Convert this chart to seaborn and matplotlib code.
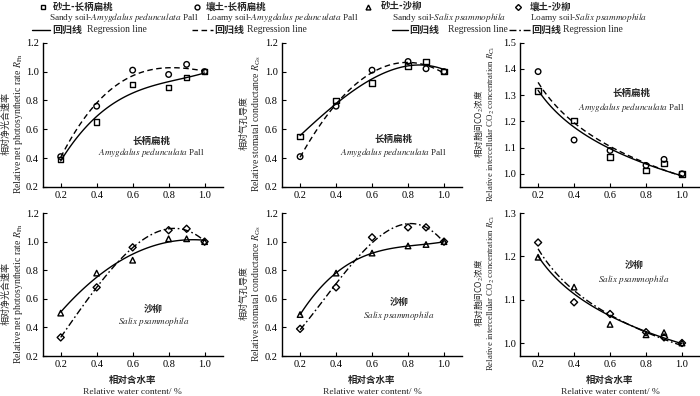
"""
相对含水率与光合参数关系图（长柄扁桃、沙柳）
"""
import matplotlib
matplotlib.use('Agg')
import matplotlib.pyplot as plt
from matplotlib.lines import Line2D
import seaborn as sns
import pandas as pd

# 数据
water = [0.2, 0.4, 0.6, 0.8, 0.9, 1.0]

pn_amy_sandy = [0.39, 0.65, 0.91, 0.89, 0.96, 1.00]
pn_amy_loamy = [0.41, 0.76, 1.01, 0.98, 1.05, 1.00]
gs_amy_sandy = [0.55, 0.80, 0.92, 1.04, 1.07, 1.00]
gs_amy_loamy = [0.41, 0.76, 1.01, 1.07, 1.02, 1.00]
ci_amy_sandy = [1.316, 1.203, 1.065, 1.013, 1.039, 1.00]
ci_amy_loamy = [1.390, 1.129, 1.089, 1.032, 1.055, 1.00]

pn_sal_sandy = [0.50, 0.78, 0.87, 1.02, 1.02, 1.00]
pn_sal_loamy = [0.33, 0.68, 0.96, 1.08, 1.09, 1.00]
gs_sal_sandy = [0.49, 0.78, 0.92, 0.97, 0.98, 1.00]
gs_sal_loamy = [0.39, 0.68, 1.03, 1.10, 1.10, 1.00]
ci_sal_sandy = [1.198, 1.129, 1.043, 1.019, 1.024, 1.00]
ci_sal_loamy = [1.232, 1.094, 1.067, 1.025, 1.013, 1.00]

sns.set_theme(style='ticks')
plt.rcParams['font.family'] = ['Liberation Serif', 'Noto Sans CJK SC']
plt.rcParams['mathtext.fontset'] = 'stix'
plt.rcParams['axes.unicode_minus'] = False
plt.rcParams['xtick.direction'] = 'in'
plt.rcParams['ytick.direction'] = 'in'

CJK = ['Noto Sans CJK SC', 'Liberation Serif']

DASH = (0, (4, 2.5))
DASHDOT = (0, (5, 2, 1.2, 2))

fig = plt.figure(figsize=(7, 3.96), dpi=100)

lefts = [0.061, 0.403, 0.743]
w = 0.257
rows = [(0.528, 0.364), (0.101, 0.361)]
# y轴标签偏移（中文, 英文）及字号
ylab_off = [(-0.205, -0.135), (-0.21, -0.14), (-0.228, -0.158)]
ylab_size = [(6.5, 7.0), (6.5, 7.0), (6.2, 6.3)]

panels = [
    # row, col, sandy, loamy, markers, loamy style, ylim, yticks, labels, species, 注释位置, 拟合方式
    (0, 0, pn_amy_sandy, pn_amy_loamy, ('s', 'o'), DASH, (0.2, 1.2),
     [0.2, 0.4, 0.6, 0.8, 1.0, 1.2], '相对净光合速率',
     r'Relative net photosynthetic rate $R_{\rm Pn}$', 'amy', (0.705, 0.52, 0.436), 'poly'),
    (0, 1, gs_amy_sandy, gs_amy_loamy, ('s', 'o'), DASH, (0.2, 1.2),
     [0.2, 0.4, 0.6, 0.8, 1.0, 1.2], '相对气孔导度',
     r'Relative stomatal conductance $R_{\rm Gs}$', 'amy', (0.717, 0.53, 0.44), 'poly'),
    (0, 2, ci_amy_sandy, ci_amy_loamy, ('s', 'o'), DASH, (0.95, 1.5),
     [1.0, 1.1, 1.2, 1.3, 1.4, 1.5], '相对胞间CO$_2$浓度',
     r'Relative intercellular CO$_2$ concentration $R_{\rm Ci}$', 'amy', (0.717, 1.307, 1.252), 'log'),
    (1, 0, pn_sal_sandy, pn_sal_loamy, ('^', 'D'), DASHDOT, (0.2, 1.2),
     [0.2, 0.4, 0.6, 0.8, 1.0, 1.2], '相对净光合速率',
     r'Relative net photosynthetic rate $R_{\rm Pn}$', 'sal', (0.717, 0.53, 0.44), 'poly'),
    (1, 1, gs_sal_sandy, gs_sal_loamy, ('^', 'D'), DASHDOT, (0.2, 1.2),
     [0.2, 0.4, 0.6, 0.8, 1.0, 1.2], '相对气孔导度',
     r'Relative stomatal conductance $R_{\rm Gs}$', 'sal', (0.75, 0.58, 0.48), 'poly'),
    (1, 2, ci_sal_sandy, ci_sal_loamy, ('^', 'D'), DASHDOT, (0.97, 1.3),
     [1.0, 1.1, 1.2, 1.3], '相对胞间CO$_2$浓度',
     r'Relative intercellular CO$_2$ concentration $R_{\rm Ci}$', 'sal', (0.733, 1.179, 1.147), 'log'),
]

for (row, col, sandy, loamy, mks, lstyle, ylim, yticks, ylab_cn, ylab_en,
     sp, ann, fit) in panels:
    bottom, height = rows[row]
    ax = fig.add_axes([lefts[col], bottom, w, height])
    df = pd.DataFrame({'x': water, 'sandy': sandy, 'loamy': loamy})

    # 回归线
    fit_kws = dict(logx=True) if fit == 'log' else dict(order=3)
    sns.regplot(data=df, x='x', y='sandy', ci=None, scatter=False, ax=ax,
                line_kws=dict(color='black', lw=1.0, ls='-'), **fit_kws)
    sns.regplot(data=df, x='x', y='loamy', ci=None, scatter=False, ax=ax,
                line_kws=dict(color='black', lw=1.0, ls=lstyle), **fit_kws)
    # 散点
    sns.scatterplot(data=df, x='x', y='sandy', marker=mks[0], s=16, ax=ax,
                    facecolors='none', edgecolor='black', linewidth=1.0, zorder=5)
    sns.scatterplot(data=df, x='x', y='loamy', marker=mks[1], s=16 if mks[1] == 'o' else 13,
                    ax=ax, facecolors='none', edgecolor='black', linewidth=1.0, zorder=5)

    ax.set_xlim(0.1, 1.1)
    ax.set_ylim(*ylim)
    ax.set_xticks([0.2, 0.4, 0.6, 0.8, 1.0])
    ax.set_xticklabels(['0.2', '0.4', '0.6', '0.8', '1.0'])
    ax.set_yticks(yticks)
    ax.set_yticklabels([f'{v:.1f}' for v in yticks])
    ax.tick_params(labelsize=7.5, length=3, width=0.8, pad=3, colors='black')
    for s in ['top', 'right']:
        ax.spines[s].set_visible(False)
    for s in ['left', 'bottom']:
        ax.spines[s].set_linewidth(1.0)
        ax.spines[s].set_color('black')
    ax.set_xlabel('')
    ax.set_ylabel('')

    # y轴标签（中英文两行）
    ax.text(ylab_off[col][0], 0.44, ylab_cn, transform=ax.transAxes, rotation=90,
            ha='center', va='center', fontsize=ylab_size[col][0], family=CJK)
    ax.text(ylab_off[col][1], 0.44, ylab_en, transform=ax.transAxes, rotation=90,
            ha='center', va='center', fontsize=ylab_size[col][1])

    # 物种注释
    if sp == 'amy':
        ax.text(ann[0], ann[1], '长柄扁桃', ha='center', va='center',
                fontsize=6.8, fontweight='bold', family=CJK)
        ax.text(ann[0], ann[2], r'$\it{Amygdalus\ pedunculata}$ Pall',
                ha='center', va='center', fontsize=6.6)
    else:
        ax.text(ann[0], ann[1], '沙柳', ha='center', va='center',
                fontsize=6.8, fontweight='bold', family=CJK)
        ax.text(ann[0], ann[2], r'$\it{Salix\ psammophila}$',
                ha='center', va='center', fontsize=6.6)

    if row == 1:
        ax.text(0.5, -0.168, '相对含水率', transform=ax.transAxes, ha='center',
                va='center', fontsize=6.8, fontweight='bold', family=CJK)
        ax.text(0.5, -0.25, 'Relative water content/ %', transform=ax.transAxes,
                ha='center', va='center', fontsize=6.8)

# 图例（手动绘制）
W, H = 700.0, 396.0


def fx(px):
    return px / W


def fy(py):
    return 1 - py / H


legend_items = [
    # marker x, cn x, en x, line x0, x1, reg cn x, reg en x, marker, cn, en, linestyle
    (43, 53, 49, 32, 50, 52, 87, 's', '砂土-长柄扁桃',
     r'Sandy soil-$\it{Amygdalus\ pedunculata}$ Pall', '-'),
    (197, 206, 206, 192, 213, 214, 247, 'o', '壤土-长柄扁桃',
     r'Loamy soil-$\it{Amygdalus\ pedunculata}$ Pall', DASH),
    (368, 381, 392, 392, 408, 409, 448, '^', '砂土-沙柳',
     r'Sandy soil-$\it{Salix\ psammophila}$', '-'),
    (518, 530, 530, 509, 530, 531, 563, 'D', '壤土-沙柳',
     r'Loamy soil-$\it{Salix\ psammophila}$', DASHDOT),
]

for mx, cnx, enx, lx0, lx1, rcx, rex, mk, cn, en, ls in legend_items:
    fig.add_artist(Line2D([fx(mx)], [fy(6.5)], marker=mk, ms=3.5 if mk != 'D' else 3,
                          mfc='none', mec='black', mew=1.0, ls='none'))
    fig.text(fx(cnx), fy(6.5), cn, ha='left', va='center', fontsize=6.8,
             fontweight='bold', family=CJK)
    fig.text(fx(enx), fy(18), en, ha='left', va='center', fontsize=6.7)
    fig.add_artist(Line2D([fx(lx0), fx(lx1)], [fy(29.5), fy(29.5)], color='black',
                          lw=1.0, ls=ls))
    fig.text(fx(rcx), fy(29.5), '回归线', ha='left', va='center', fontsize=7.2,
             fontweight='bold', family=CJK)
    fig.text(fx(rex), fy(29.5), 'Regression line', ha='left', va='center', fontsize=6.9)

fig.savefig('out.png', dpi=100)
plt.close(fig)
